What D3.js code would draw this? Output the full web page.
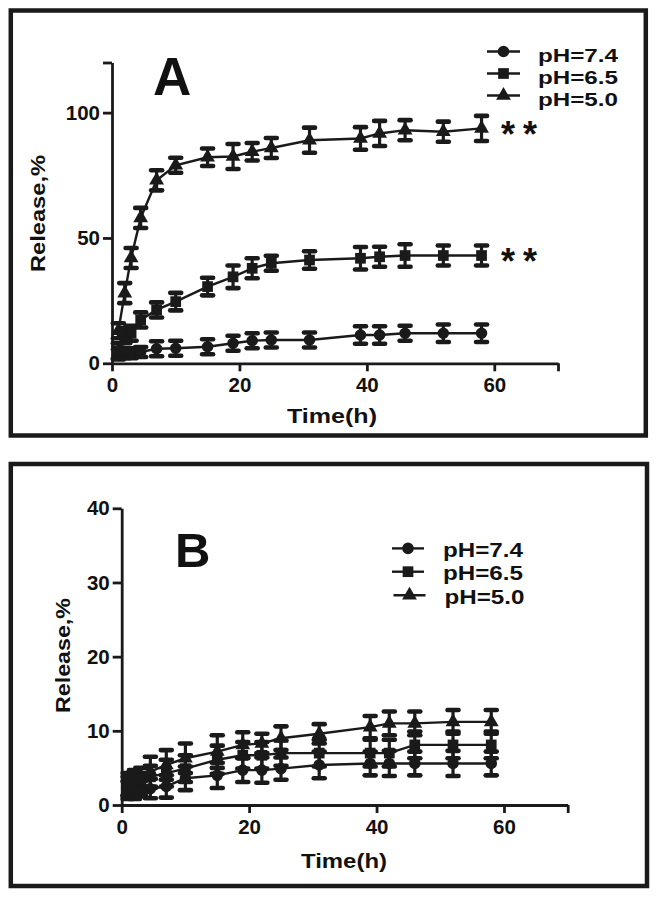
<!DOCTYPE html>
<html>
<head>
<meta charset="utf-8">
<script src="https://cdn.jsdelivr.net/npm/d3@7"></script>
<style>
  html, body { margin: 0; padding: 0; background: #fff; }
  svg { display: block; }
  text { font-family: "Liberation Sans", Arial, sans-serif; font-weight: bold; fill: #111; }
</style>
</head>
<body>
<div id="chart"></div>
<script>
// ---------- data ----------
const times = [1, 2, 3, 4.5, 7, 10, 15, 19, 22, 25, 31, 39, 42, 46, 52, 58];
const seriesNames = ["pH=7.4", "pH=6.5", "pH=5.0"];

// Panel A
const aPH74 = [3.5, 4, 4, 4.5, 5.8, 6, 6.6, 8, 9, 9.3, 9.3, 11.3, 11.3, 12, 12, 12];
const aPH74Err = [2, 2, 2, 2, 3, 3, 3, 3, 3, 3, 3, 3.5, 3.5, 3, 3.5, 3.5];
const aPH65 = [5, 11, 12, 17.3, 21.3, 24.6, 30.6, 34.5, 37.9, 39.9, 41.2, 41.9, 42.5, 43, 43, 43];
const aPH65Err = [3, 3, 3, 3, 3, 3.5, 3.5, 4.5, 4, 3, 3.5, 4.5, 4, 4.5, 4, 4];
const aPH50 = [13, 28, 42, 58, 73, 79, 82.2, 82.5, 84.4, 85.9, 89, 89.7, 91.7, 93, 92.4, 93.7];
const aPH50Err = [3, 4, 4, 4, 4, 3, 3.5, 5, 3.5, 4, 5, 4.5, 5, 4, 4, 5];
const aYTicks = [0, 50, 100, 120];
const aYLabels = ["0", "50", "100", ""];

// Panel B
const bPH74 = [2, 2, 2.5, 2.2, 2.5, 3.6, 4.0, 4.7, 4.7, 4.9, 5.4, 5.6, 5.6, 5.6, 5.6, 5.6];
const bPH74Err = [1.2, 1.2, 1.3, 1.3, 1.5, 1.6, 1.7, 1.6, 1.7, 1.5, 1.8, 1.6, 1.7, 1.6, 1.7, 1.6];
const bPH65 = [2.5, 3, 3, 3.8, 4.3, 4.9, 6.1, 6.7, 6.7, 7.0, 7.0, 7.0, 7.0, 8.1, 8.1, 8.1];
const bPH65Err = [1.3, 1.3, 1.3, 1.5, 1.8, 1.8, 1.9, 1.8, 1.8, 1.7, 1.8, 1.8, 1.8, 1.8, 1.8, 1.8];
const bPH50 = [2.8, 3.2, 3.5, 4.5, 5.4, 6.3, 7.2, 8.1, 8.3, 9.0, 9.6, 10.5, 11, 11, 11.2, 11.2];
const bPH50Err = [1.5, 1.5, 1.5, 2, 2, 2, 2.2, 1.7, 1.3, 1.6, 1.3, 1.5, 1.6, 1.6, 1.6, 1.6];
const bYTicks = [0, 10, 20, 30, 40];
const bYLabels = ["0", "10", "20", "30", "40"];

const xTicks = [0, 20, 40, 60, 70];
const xLabels = ["0", "20", "40", "60", ""];

// ---------- drawing ----------
const W = 656, H = 897;
const INK = "#1a1a1a";
const svg = d3.select("#chart").append("svg").attr("width", W).attr("height", H);

const symbolTypes = [d3.symbolCircle, d3.symbolSquare, d3.symbolTriangle];
const symbolSizes = [105, 115, 95];

function drawPanel(p) {
  const g = svg.append("g");
  // frame
  g.append("rect")
    .attr("x", p.frame[0]).attr("y", p.frame[1])
    .attr("width", p.frame[2] - p.frame[0]).attr("height", p.frame[3] - p.frame[1])
    .attr("fill", "none").attr("stroke", INK).attr("stroke-width", 4.5);

  const x = d3.scaleLinear().domain([0, 70]).range(p.xRange);
  const y = d3.scaleLinear().domain(p.yDomain).range(p.yRange);

  // axes
  const yAxis = d3.axisLeft(y).tickValues(p.yTicks)
    .tickFormat((d, i) => p.yLabels[i]).tickSize(9).tickSizeOuter(0).tickPadding(3);
  const xAxis = d3.axisBottom(x).tickValues(xTicks)
    .tickFormat((d, i) => xLabels[i]).tickSize(8).tickSizeOuter(0).tickPadding(6);

  const gy = g.append("g").attr("transform", `translate(${p.xRange[0]},0)`).call(yAxis);
  const gx = g.append("g").attr("transform", `translate(0,${p.yRange[0]})`).call(xAxis);
  [gx, gy].forEach(a => {
    a.attr("font-size", null).attr("font-family", null);
    a.select(".domain").attr("stroke", INK).attr("stroke-width", 2.8);
    a.selectAll(".tick line").attr("stroke", INK).attr("stroke-width", 2.8);
    a.selectAll(".tick text").attr("font-size", 20.5).attr("fill", INK)
      .attr("font-family", '"Liberation Sans", Arial, sans-serif').attr("font-weight", "bold");
  });

  // series
  const line = d3.line().x(d => x(d.t)).y(d => y(d.v));
  p.series.forEach((s, si) => {
    const data = times.map((t, i) => ({ t: t, v: s.values[i], e: s.errors[i] }));
    const sg = g.append("g");
    sg.append("path").datum(data).attr("d", line)
      .attr("fill", "none").attr("stroke", INK).attr("stroke-width", 2.4);
    const eb = sg.selectAll(".eb").data(data).enter().append("g");
    eb.append("line")
      .attr("x1", d => x(d.t)).attr("x2", d => x(d.t))
      .attr("y1", d => y(d.v - d.e)).attr("y2", d => y(d.v + d.e))
      .attr("stroke", INK).attr("stroke-width", 3.2);
    [1, -1].forEach(sign => {
      eb.append("line")
        .attr("x1", d => x(d.t) - 5.5).attr("x2", d => x(d.t) + 5.5)
        .attr("y1", d => y(d.v + sign * d.e)).attr("y2", d => y(d.v + sign * d.e))
        .attr("stroke", INK).attr("stroke-width", 4.6).attr("stroke-linecap", "round");
    });
    sg.selectAll(".mk").data(data).enter().append("path")
      .attr("d", d3.symbol().type(symbolTypes[si]).size(symbolSizes[si]))
      .attr("transform", d => `translate(${x(d.t)},${y(d.v)})`)
      .attr("fill", INK);
  });

  // axis titles
  g.append("text").attr("x", p.xTitle[0]).attr("y", p.xTitle[1])
    .attr("text-anchor", "middle").attr("font-size", 21)
    .attr("textLength", p.xTitle[2]).attr("lengthAdjust", "spacingAndGlyphs")
    .text("Time(h)");
  g.append("text")
    .attr("transform", `translate(${p.yTitle[0]},${p.yTitle[1]}) rotate(-90)`)
    .attr("text-anchor", "middle").attr("font-size", 21)
    .attr("textLength", p.yTitle[2]).attr("lengthAdjust", "spacingAndGlyphs")
    .text("Release,%");

  // panel letter
  g.append("text").attr("x", p.letter[0]).attr("y", p.letter[1])
    .attr("font-size", p.letter[2]).text(p.letterText);

  // legend
  const lg = g.selectAll(".lg").data(seriesNames).enter().append("g")
    .attr("transform", (d, i) => `translate(0,${p.legend.baselines[i]})`);
  lg.append("line")
    .attr("x1", (d, i) => p.legend.lineX[0] + (i === 2 ? p.legend.shift3 : 0))
    .attr("x2", (d, i) => p.legend.lineX[1] + (i === 2 ? p.legend.shift3 : 0))
    .attr("y1", p.legend.symOffset).attr("y2", p.legend.symOffset)
    .attr("stroke", INK).attr("stroke-width", 2.4);
  lg.append("path")
    .attr("d", (d, i) => d3.symbol().type(symbolTypes[i]).size(symbolSizes[i])())
    .attr("transform", (d, i) => `translate(${(p.legend.lineX[0] + p.legend.lineX[1]) / 2 + (i === 2 ? p.legend.shift3 : 0)},${p.legend.symOffset})`)
    .attr("fill", INK);
  lg.append("text")
    .attr("x", (d, i) => p.legend.textX + (i === 2 ? p.legend.shift3 : 0))
    .attr("y", 0).attr("font-size", p.legend.fontSize)
    .attr("textLength", p.legend.textLen).attr("lengthAdjust", "spacingAndGlyphs")
    .text(d => d);

  // significance marks
  (p.stars || []).forEach(s => {
    g.append("text").attr("x", s[0]).attr("y", s[1])
      .attr("font-size", 36).attr("letter-spacing", 8).text("**");
  });
}

drawPanel({
  frame: [10.8, 10.5, 645.8, 435.5],
  xRange: [112, 558], yRange: [363.3, 62.5], yDomain: [0, 120],
  yTicks: aYTicks, yLabels: aYLabels,
  series: [
    { values: aPH74, errors: aPH74Err },
    { values: aPH65, errors: aPH65Err },
    { values: aPH50, errors: aPH50Err }
  ],
  xTitle: [332, 423, 90],
  yTitle: [45, 213.5, 117],
  letter: [153, 95, 53], letterText: "A",
  legend: { baselines: [62, 84, 106], lineX: [487, 520], symOffset: -10.5, textX: 538,
            textLen: 80, fontSize: 18.6, shift3: 0 },
  stars: [[501, 146.5], [501, 274]]
});

drawPanel({
  frame: [10.8, 464, 647, 886],
  xRange: [121.7, 567.7], yRange: [805, 508.3], yDomain: [0, 40],
  yTicks: bYTicks, yLabels: bYLabels,
  series: [
    { values: bPH74, errors: bPH74Err },
    { values: bPH65, errors: bPH65Err },
    { values: bPH50, errors: bPH50Err }
  ],
  xTitle: [344, 868, 86],
  yTitle: [70, 655.5, 115],
  letter: [175, 567, 49], letterText: "B",
  legend: { baselines: [556.7, 580, 603.5], lineX: [392, 424], symOffset: -8.3, textX: 443,
            textLen: 80, fontSize: 20.5, shift3: 1.5 },
  stars: []
});
</script>
</body>
</html>
